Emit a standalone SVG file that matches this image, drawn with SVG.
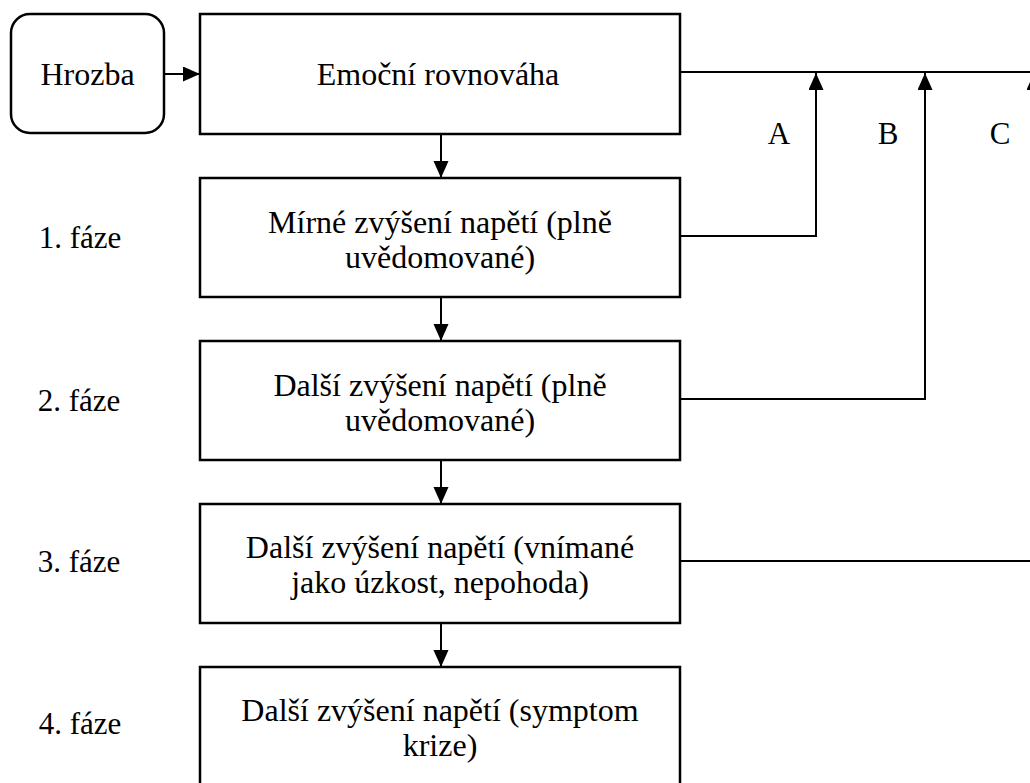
<svg xmlns="http://www.w3.org/2000/svg" width="1030" height="783" viewBox="0 0 1030 783">
<style>
text{font-family:"Liberation Serif","Times New Roman",serif;font-size:31px;fill:#000}
.c{text-anchor:middle}
.t{font-size:32px}
.box{fill:#fff;stroke:#000;stroke-width:2.5}
.ln{fill:none;stroke:#000;stroke-width:2}
</style>
<defs>
<marker id="ah" markerUnits="userSpaceOnUse" markerWidth="18" markerHeight="16" refX="17" refY="7.5" orient="auto">
<path d="M0,0 L17,7.5 L0,15 Z" fill="#000"/>
</marker>
</defs>
<rect width="1030" height="783" fill="#fff"/>
<g id="connectors">
<line class="ln" x1="164" y1="74" x2="200" y2="74" marker-end="url(#ah)"/>
<line class="ln" x1="441" y1="134" x2="441" y2="178" marker-end="url(#ah)"/>
<line class="ln" x1="441" y1="297" x2="441" y2="341" marker-end="url(#ah)"/>
<line class="ln" x1="441" y1="460" x2="441" y2="504" marker-end="url(#ah)"/>
<line class="ln" x1="441" y1="623" x2="441" y2="667" marker-end="url(#ah)"/>
<line class="ln" x1="680" y1="72" x2="1040" y2="72"/>
<polyline class="ln" points="680,236 816,236 816,73" marker-end="url(#ah)"/>
<polyline class="ln" points="680,399 925,399 925,73" marker-end="url(#ah)"/>
<polyline class="ln" points="680,561 1034,561 1034,73" marker-end="url(#ah)"/>
</g>
<g id="hrozba">
<rect class="box" x="11" y="14" width="153" height="119" rx="19"/>
<text class="c t" x="87.5" y="85">Hrozba</text>
</g>
<g id="rovnovaha">
<rect class="box" x="200" y="14" width="480" height="120"/>
<text class="c t" x="438" y="85">Emoční rovnováha</text>
</g>
<g id="faze1">
<rect class="box" x="200" y="178" width="480" height="119"/>
<text class="c t" x="440" y="233">Mírné zvýšení napětí (plně</text>
<text class="c t" x="440" y="268">uvědomované)</text>
</g>
<g id="faze2">
<rect class="box" x="200" y="341" width="480" height="119"/>
<text class="c t" x="440" y="396">Další zvýšení napětí (plně</text>
<text class="c t" x="440" y="431">uvědomované)</text>
</g>
<g id="faze3">
<rect class="box" x="200" y="504" width="480" height="119"/>
<text class="c t" x="440" y="558">Další zvýšení napětí (vnímané</text>
<text class="c t" x="440" y="593">jako úzkost, nepohoda)</text>
</g>
<g id="faze4">
<rect class="box" x="200" y="667" width="480" height="130"/>
<text class="c t" x="440" y="721">Další zvýšení napětí (symptom</text>
<text class="c t" x="440" y="756">krize)</text>
</g>
<g id="labels">
<text class="c" x="80" y="248">1. fáze</text>
<text class="c" x="79" y="411">2. fáze</text>
<text class="c" x="79" y="572">3. fáze</text>
<text class="c" x="80" y="734">4. fáze</text>
<text class="c" x="779" y="144">A</text>
<text class="c" x="888" y="144">B</text>
<text class="c" x="1000" y="144">C</text>
</g>
</svg>
